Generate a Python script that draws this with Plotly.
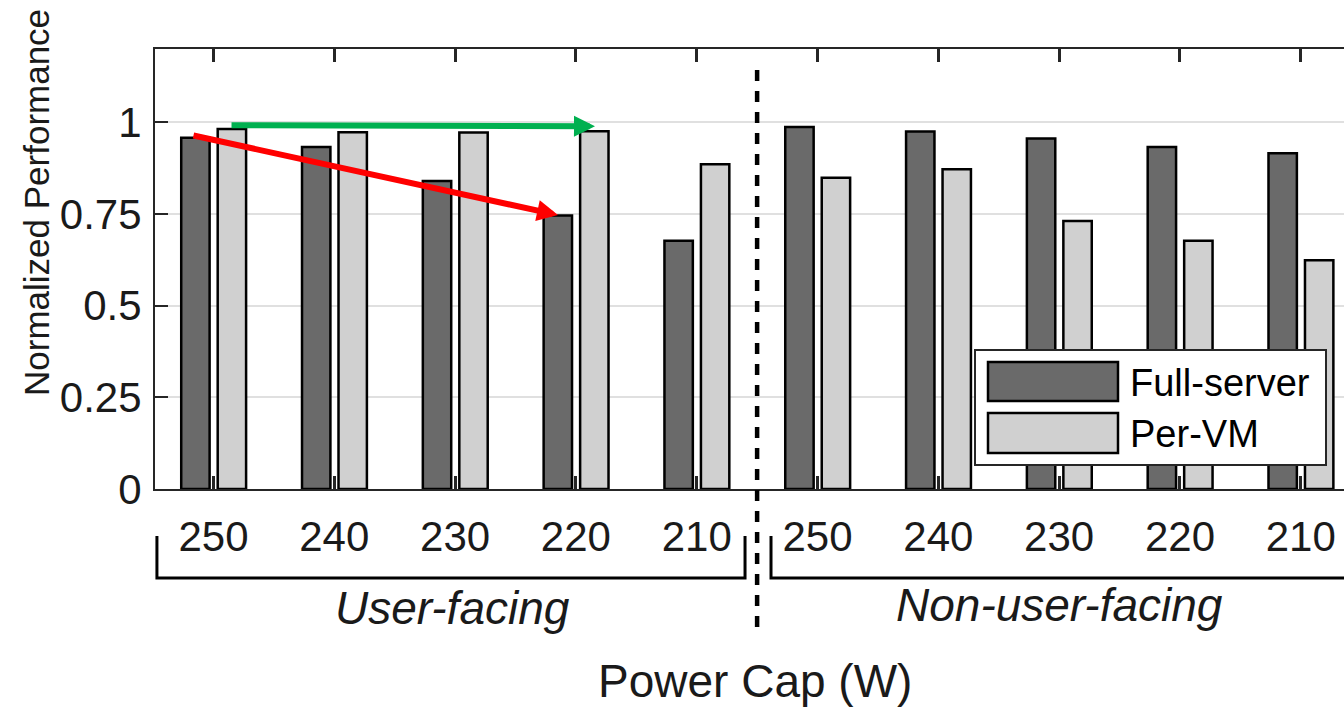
import plotly.graph_objects as go

# ---------------- data ----------------
caps = ["250", "240", "230", "220", "210", "250", "240", "230", "220", "210"]
full_server = [0.958, 0.933, 0.840, 0.746, 0.677, 0.987, 0.975, 0.956, 0.933, 0.916]
per_vm = [0.982, 0.973, 0.972, 0.976, 0.886, 0.849, 0.872, 0.731, 0.677, 0.624]
group_names = ["User-facing", "Non-user-facing"]
group_centers = [1.975, 7.0]
y_ticks = [0, 0.25, 0.5, 0.75, 1]
y_ticktext = ["0", "0.25", "0.5", "0.75", "1"]

# arrows: (tail_x, tail_y, head_x, head_y, colour)
arrows = [
    (0.137, 0.992, 3.158, 0.989, "#00b050"),
    (-0.178, 0.965, 2.852, 0.747, "#ff0000"),
]

# ---------------- layout constants ----------------
W, H = 1344, 707
ML, MR, MT, MB = 155, 0, 49, 218
XMIN, XMAX = -0.484, 9.358
YMIN, YMAX = 0.0, 1.2
FONT = "Liberation Sans, Arial, Helvetica, sans-serif"
DARK = "#6a6a6a"
LIGHT = "#d0d0d0"
AX = "#262626"

x = list(range(len(caps)))


def px(xpix):
    return (xpix - ML) / (W - ML - MR)


def py(ypix):
    return (H - MB - ypix) / (H - MT - MB)


def dx(xd):
    return (xd - XMIN) / (XMAX - XMIN)


fig = go.Figure()
fig.add_trace(go.Bar(
    x=x, y=full_server, name="Full-server", width=0.235, offset=-0.267,
    marker=dict(color=DARK, line=dict(color="black", width=2.5)),
))
fig.add_trace(go.Bar(
    x=x, y=per_vm, name="Per-VM", width=0.235, offset=0.035,
    marker=dict(color=LIGHT, line=dict(color="black", width=2.5)),
))

shapes = []
# separator dashed line
shapes.append(dict(type="line", xref="paper", yref="paper",
                   x0=dx(4.5), x1=dx(4.5), y0=py(627), y1=py(60),
                   line=dict(color="black", width=4.5, dash="11px,10px")))
# brackets
shapes.append(dict(type="path", xref="paper", yref="paper",
                   path=f"M{dx(-0.468)},{py(536)} L{dx(-0.468)},{py(578)} L{dx(4.40)},{py(578)} L{dx(4.40)},{py(536)}",
                   line=dict(color="black", width=3)))
shapes.append(dict(type="path", xref="paper", yref="paper",
                   path=f"M{dx(4.615)},{py(536)} L{dx(4.615)},{py(578)} L1.05,{py(578)}",
                   line=dict(color="black", width=3)))
# legend box
shapes.append(dict(type="rect", xref="paper", yref="paper",
                   x0=px(975), x1=px(1326), y0=py(465), y1=py(350),
                   fillcolor="white", line=dict(color=AX, width=2), layer="above"))
shapes.append(dict(type="rect", xref="paper", yref="paper",
                   x0=px(988), x1=px(1118), y0=py(401), y1=py(362),
                   fillcolor=DARK, line=dict(color="black", width=2.5), layer="above"))
shapes.append(dict(type="rect", xref="paper", yref="paper",
                   x0=px(988), x1=px(1118), y0=py(453), y1=py(413),
                   fillcolor=LIGHT, line=dict(color="black", width=2.5), layer="above"))

annotations = []
# legend labels
annotations.append(dict(xref="paper", yref="paper", x=px(1128), y=py(383),
                        xanchor="left", yanchor="middle", showarrow=False,
                        text="Full-server", font=dict(size=38, color="black", family=FONT)))
annotations.append(dict(xref="paper", yref="paper", x=px(1128), y=py(434),
                        xanchor="left", yanchor="middle", showarrow=False,
                        text="Per-VM", font=dict(size=38, color="black", family=FONT)))
# group labels
for name, cx, ypix in zip(group_names, group_centers, [608, 605]):
    annotations.append(dict(xref="x", yref="paper", x=cx, y=py(ypix),
                            xanchor="center", yanchor="middle", showarrow=False,
                            text=f"<i>{name}</i>", font=dict(size=46, color="#1a1a1a", family=FONT)))
# axis titles
annotations.append(dict(xref="paper", yref="paper", x=px(755), y=py(681),
                        xanchor="center", yanchor="middle", showarrow=False,
                        text="Power Cap (W)", font=dict(size=46, color="#1a1a1a", family=FONT)))
annotations.append(dict(xref="paper", yref="paper", x=px(36), y=py(203),
                        xanchor="center", yanchor="middle", showarrow=False, textangle=-90,
                        text="Normalized Performance", font=dict(size=35, color="#1a1a1a", family=FONT)))
# arrows
for tx, ty, hx, hy, col in arrows:
    annotations.append(dict(xref="x", yref="y", axref="x", ayref="y",
                            x=hx, y=hy, ax=tx, ay=ty, text="", showarrow=True,
                            arrowhead=2, arrowwidth=6, arrowsize=0.7, arrowcolor=col))

fig.update_layout(
    width=W, height=H,
    margin=dict(l=ML, r=MR, t=MT, b=MB, pad=0),
    paper_bgcolor="white", plot_bgcolor="white",
    barmode="overlay", showlegend=False,
    font=dict(family=FONT, color="#1a1a1a"),
    shapes=shapes, annotations=annotations,
    xaxis=dict(range=[XMIN, XMAX], tickvals=x, ticktext=caps,
               ticks="inside", ticklen=13, tickwidth=2.5, tickcolor=AX,
               showline=True, linecolor=AX, linewidth=2, mirror="ticks",
               showgrid=False, zeroline=False, ticklabelstandoff=10,
               tickfont=dict(size=42, color="#1a1a1a", family=FONT)),
    yaxis=dict(range=[YMIN, YMAX], tickvals=y_ticks, ticktext=y_ticktext,
               ticks="inside", ticklen=13, tickwidth=2, tickcolor=AX,
               showline=True, linecolor=AX, linewidth=2,
               showgrid=True, gridcolor="#e0e0e0", gridwidth=2, zeroline=False,
               ticklabelstandoff=3,
               tickfont=dict(size=42, color="#1a1a1a", family=FONT)),
)

fig.write_html("out.html")
